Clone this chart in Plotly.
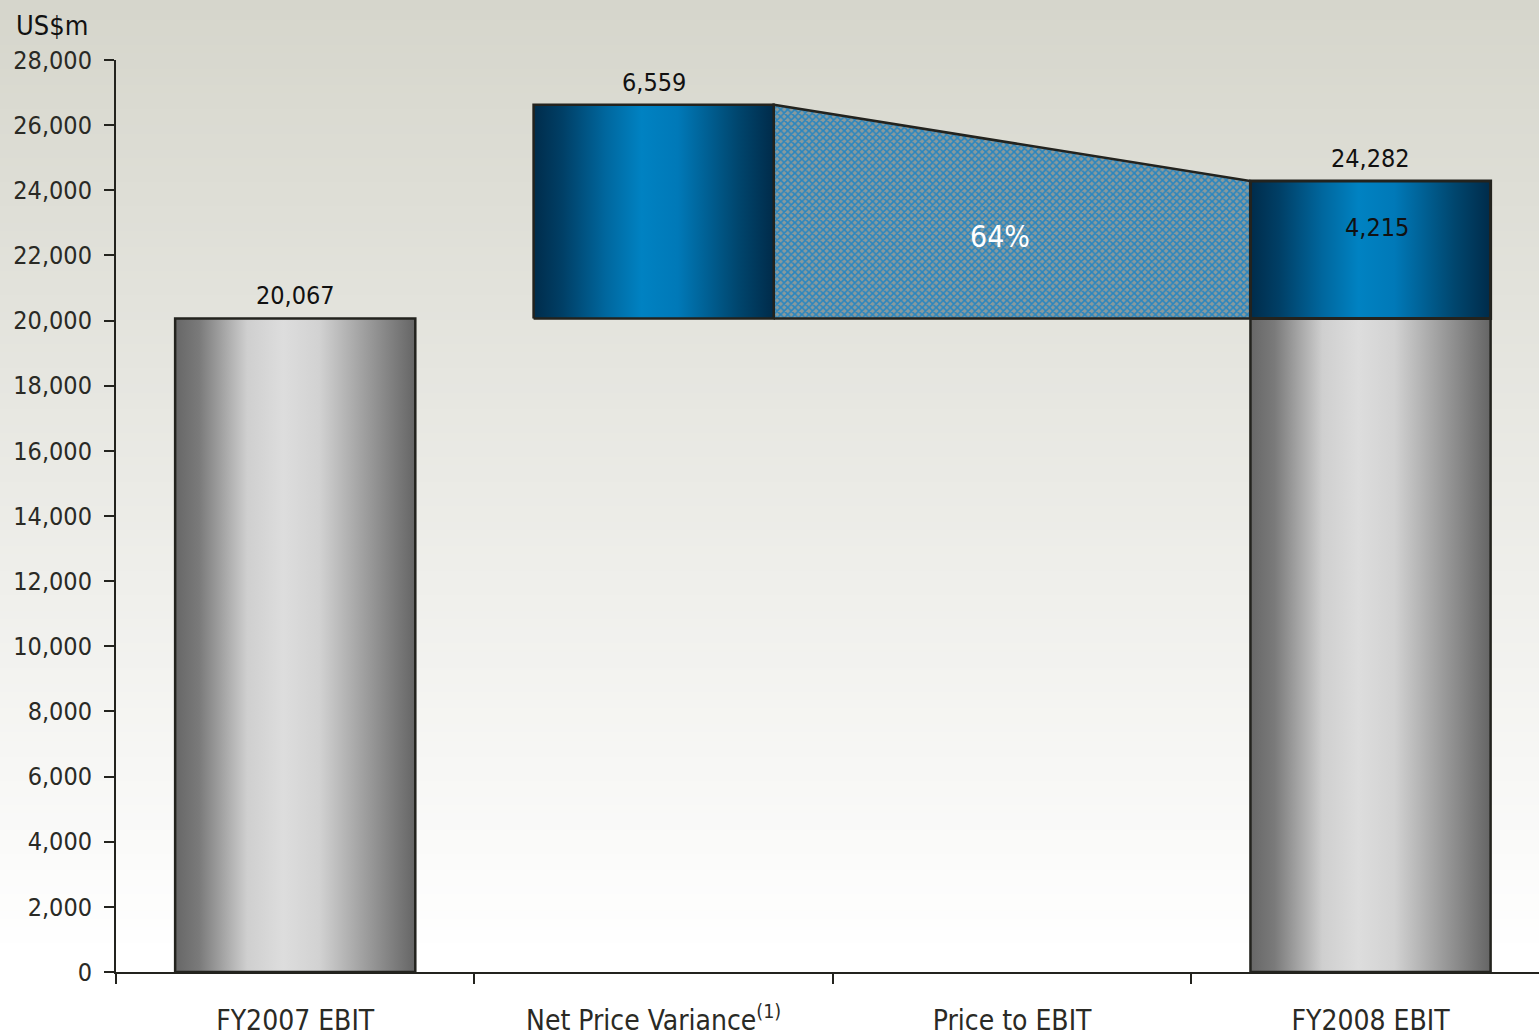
import plotly.graph_objects as go
import zlib, struct, base64

# ---------------- data ----------------
categories = ["FY2007 EBIT", "Net Price Variance<sup>(1)</sup>", "Price to EBIT", "FY2008 EBIT"]
fy2007_ebit = 20067
net_price_variance = 6559
price_to_ebit_pct = 64
fy2008_increase = 4215
fy2008_ebit = 24282
y_ticks = list(range(0, 28001, 2000))
unit_label = "US$m"

# ---------------- style ----------------
W, H = 1539, 1036
ML, MR, MT, MB = 116, 0, 60, 64
BAR_W = 0.67
FONT = "Liberation Sans Narrow, Arial Narrow, DejaVu Sans Condensed, sans-serif"
AX = "#23231e"
GRAY = [[0, '#676767'], [0.1, '#7a7a7a'], [0.3, '#cfcfcf'], [0.45, '#dddddd'],
        [0.6, '#d2d2d2'], [0.85, '#8e8e8e'], [1, '#656565']]
BLUE = [[0, '#002c4b'], [0.12, '#003f66'], [0.3, '#00679e'], [0.45, '#0082c2'],
        [0.6, '#0079b8'], [0.85, '#00466e'], [1, '#002b4a']]


def gradient_png(h, top, bottom, end_frac):
    rows = b''
    for i in range(h):
        t = min(1.0, (i / (h - 1)) / end_frac)
        c = [int(round(a + (b - a) * t)) for a, b in zip(top, bottom)]
        rows += b'\x00' + bytes(c * 2)

    def chunk(tag, data):
        return (struct.pack('>I', len(data)) + tag + data +
                struct.pack('>I', zlib.crc32(tag + data) & 0xffffffff))
    png = (b'\x89PNG\r\n\x1a\n' +
           chunk(b'IHDR', struct.pack('>IIBBBBB', 2, h, 8, 2, 0, 0, 0)) +
           chunk(b'IDAT', zlib.compress(rows)) + chunk(b'IEND', b''))
    return 'data:image/png;base64,' + base64.b64encode(png).decode()


idx = {c: i for i, c in enumerate(categories)}


def bar(xc, y0, y1, scale, lw=2.5):
    xs = [xc - BAR_W / 2, xc + BAR_W / 2, xc + BAR_W / 2, xc - BAR_W / 2, xc - BAR_W / 2]
    ys = [y0, y0, y1, y1, y0]
    return go.Scatter(x=xs, y=ys, mode='lines', fill='toself',
                      fillgradient=dict(type='horizontal', colorscale=scale),
                      line=dict(color=AX, width=lw), hoverinfo='skip', showlegend=False)


fig = go.Figure()

# hatched "Price to EBIT" connector
i_npv = idx[categories[1]]
i_fy8 = idx[categories[3]]
npv_top = fy2007_ebit + net_price_variance
xl = i_npv + BAR_W / 2
xr = i_fy8 - BAR_W / 2
fig.add_trace(go.Scatter(
    x=[xl, xr, xr, xl, xl], y=[fy2007_ebit, fy2007_ebit, fy2008_ebit, npv_top, fy2007_ebit],
    mode='lines', fill='toself',
    fillpattern=dict(shape='x', bgcolor='#8a9a9c', fgcolor='#2a86bf', size=5, solidity=0.55,
                     fillmode='replace'),
    line=dict(color=AX, width=2.5), hoverinfo='skip', showlegend=False))

# bars
fig.add_trace(bar(idx[categories[0]], 0, fy2007_ebit, GRAY))
fig.add_trace(bar(i_npv, fy2007_ebit, npv_top, BLUE))
fig.add_trace(bar(i_fy8, 0, fy2007_ebit, GRAY))
fig.add_trace(bar(i_fy8, fy2007_ebit, fy2007_ebit + fy2008_increase, BLUE, lw=3))

# labels
lab_font = dict(family=FONT, size=25, color='#111111')
ann = [
    dict(x=idx[categories[0]], y=fy2007_ebit, text=f"{fy2007_ebit:,}", yanchor='bottom', yshift=6),
    dict(x=i_npv, y=npv_top, text=f"{net_price_variance:,}", yanchor='bottom', yshift=6),
    dict(x=i_fy8, y=fy2008_ebit, text=f"{fy2008_ebit:,}", yanchor='bottom', yshift=6),
    dict(x=i_fy8, y=fy2007_ebit + fy2008_increase / 2, text=f"{fy2008_increase:,}",
         yanchor='middle', yshift=22, xshift=6),
]
for a in ann:
    fig.add_annotation(xref='x', yref='y', showarrow=False, font=lab_font, **a)

mid_x = (xl + xr) / 2
top_mid = npv_top + (fy2008_ebit - npv_top) * (mid_x - xl) / (xr - xl)
fig.add_annotation(xref='x', yref='y', x=mid_x, y=(top_mid + fy2007_ebit) / 2,
                   text=f"{price_to_ebit_pct}%", showarrow=False, xshift=-12, yshift=-6,
                   font=dict(family=FONT, size=30, color='#ffffff'))

pw, ph = W - ML - MR, H - MT - MB
fig.add_annotation(xref='paper', yref='paper', x=(14 - ML) / pw, y=(H - MB - 25) / ph,
                   xanchor='left', yanchor='middle', text=unit_label, showarrow=False,
                   font=dict(family=FONT, size=27, color='#111111'))

fig.add_layout_image(dict(
    source=gradient_png(128, (214, 214, 204), (255, 255, 255), 0.92),
    xref='paper', yref='paper', x=-ML / pw, y=1 + MT / ph, sizex=W / pw, sizey=H / ph,
    xanchor='left', yanchor='top', sizing='stretch', layer='below'))

fig.update_layout(
    width=W, height=H, margin=dict(l=ML, r=MR, t=MT, b=MB),
    paper_bgcolor='rgba(0,0,0,0)', plot_bgcolor='rgba(0,0,0,0)',
    font=dict(family=FONT, color='#2a2a25'),
    xaxis=dict(range=[-0.5, 3.47], tickmode='array', tickvals=list(range(len(categories))),
               ticktext=categories, ticks='', showgrid=False, zeroline=False,
               showline=True, linecolor=AX, linewidth=2,
               tickfont=dict(family=FONT, size=28, color='#2a2a25'), ticklabelstandoff=22,
               minor=dict(tickmode='array', tickvals=[-0.5, 0.5, 1.5, 2.5], ticks='outside',
                          ticklen=10, tickwidth=2, tickcolor=AX, showgrid=False)),
    yaxis=dict(range=[0, 28000], tickmode='array', tickvals=y_ticks,
               ticktext=[f"{v:,}" for v in y_ticks], ticks='outside', ticklen=10, tickwidth=2,
               tickcolor=AX, showline=True, linecolor=AX, linewidth=2, showgrid=False,
               zeroline=False, tickfont=dict(family=FONT, size=25, color='#2a2a25'),
               ticklabelstandoff=7),
)

fig.write_html("out.html", config={'displayModeBar': False},
               post_script="document.body.style.margin='0';document.body.style.overflow='hidden';")
